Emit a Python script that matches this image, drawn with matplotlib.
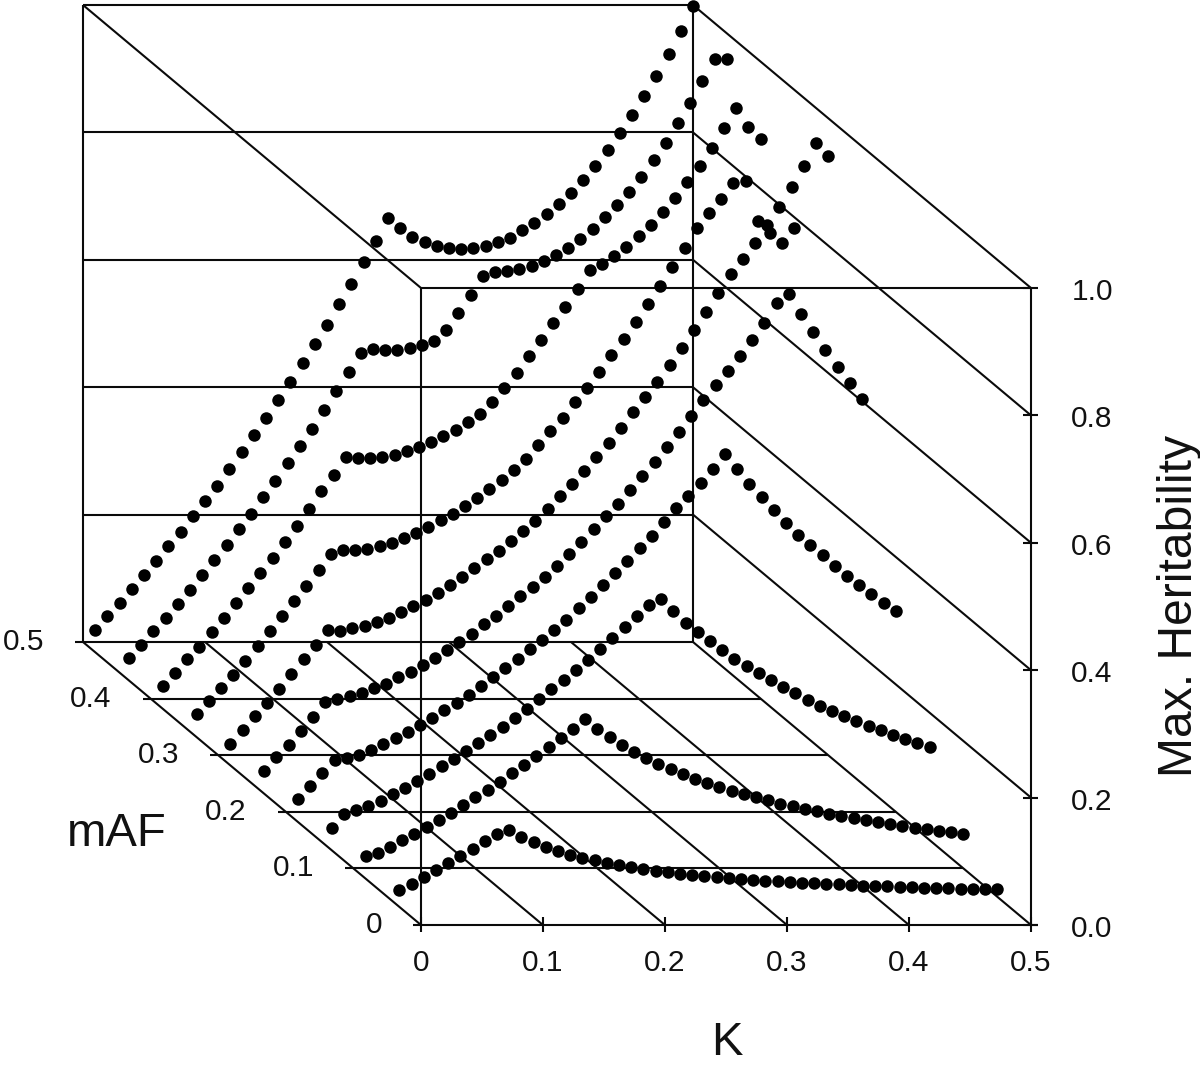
import matplotlib
matplotlib.use('Agg')
import numpy as np
import matplotlib.pyplot as plt

plt.rcParams['font.family'] = ['Liberation Sans', 'DejaVu Sans']

# K at every dot, same for all curves
k_values = [0.01, 0.02, 0.03, 0.04, 0.05, 0.06, 0.07, 0.08, 0.09, 0.10,
            0.11, 0.12, 0.13, 0.14, 0.15, 0.16, 0.17, 0.18, 0.19, 0.20,
            0.21, 0.22, 0.23, 0.24, 0.25, 0.26, 0.27, 0.28, 0.29, 0.30,
            0.31, 0.32, 0.33, 0.34, 0.35, 0.36, 0.37, 0.38, 0.39, 0.40,
            0.41, 0.42, 0.43, 0.44, 0.45, 0.46, 0.47, 0.48, 0.49, 0.50]

# max heritability, one list per mAF
h_050 = [.019, .041, .061, .083, .105, .127, .151, .173, .198, .221,
         .245, .272, .298, .325, .352, .380, .408, .438, .468, .498,
         .531, .562, .597, .630, .666, .650, .636, .628, .622, .619,
         .617, .619, .622, .628, .634, .647, .658, .672, .688, .705,
         .725, .747, .772, .799, .827, .857, .889, .923, .959, .998]
h_045 = [.019, .040, .062, .082, .104, .126, .150, .173, .197, .222,
         .245, .272, .297, .325, .352, .379, .409, .438, .468, .498,
         .504, .503, .503, .506, .511, .517, .534, .561, .589, .619,
         .625, .627, .630, .635, .643, .652, .663, .677, .693, .712,
         .730, .751, .774, .801, .828, .859, .891, .925, .960, .960]
h_040 = [.020, .040, .062, .081, .105, .127, .150, .174, .197, .221,
         .246, .271, .298, .326, .351, .379, .378, .378, .379, .382,
         .389, .395, .403, .412, .422, .434, .447, .466, .488, .511,
         .538, .563, .590, .615, .643, .673, .682, .695, .709, .726,
         .743, .764, .786, .811, .836, .864, .896, .927, .897, .878]
h_035 = [.020, .041, .061, .081, .103, .127, .151, .174, .198, .221,
         .246, .271, .278, .278, .279, .284, .289, .297, .304, .314,
         .325, .334, .347, .359, .373, .388, .403, .421, .443, .465,
         .485, .510, .532, .557, .584, .609, .636, .664, .692, .722,
         .752, .783, .807, .829, .854, .857, .794, .775, .760, .783]
h_030 = [.018, .040, .062, .082, .104, .127, .151, .173, .197, .195,
         .200, .203, .209, .215, .225, .234, .244, .255, .267, .280,
         .294, .308, .321, .336, .352, .368, .386, .407, .426, .446,
         .468, .490, .514, .539, .562, .586, .613, .639, .668, .696,
         .726, .755, .779, .804, .832, .861, .892, .925, .961, .941]
h_025 = [.020, .042, .060, .082, .104, .128, .133, .137, .142, .150,
         .156, .167, .175, .186, .197, .210, .222, .235, .250, .263,
         .279, .294, .308, .324, .341, .360, .379, .400, .420, .439,
         .461, .483, .505, .528, .552, .577, .602, .626, .648, .671,
         .696, .723, .754, .768, .737, .709, .681, .654, .629, .604]
h_020 = [.020, .041, .061, .081, .084, .089, .097, .106, .116, .125,
         .136, .147, .160, .171, .183, .197, .212, .226, .240, .256,
         .270, .285, .301, .320, .337, .356, .375, .394, .414, .433,
         .455, .477, .496, .516, .538, .562, .538, .515, .494, .474,
         .453, .435, .419, .403, .386, .370, .356, .342, .328, .315]
h_015 = [.019, .041, .047, .054, .061, .072, .082, .093, .104, .116,
         .127, .140, .152, .165, .178, .192, .206, .222, .237, .251,
         .267, .283, .300, .317, .335, .352, .369, .378, .360, .341,
         .327, .313, .298, .284, .273, .262, .251, .240, .231, .220,
         .211, .203, .195, .187, .179, .173, .165, .159, .152, .146]
h_010 = [.019, .024, .034, .045, .054, .065, .076, .087, .100, .112,
         .123, .136, .150, .162, .176, .191, .205, .219, .235, .219,
         .206, .194, .183, .173, .164, .156, .148, .140, .134, .128,
         .122, .117, .112, .107, .101, .098, .093, .090, .085, .082,
         .079, .076, .073, .070, .067, .063, .062, .059, .057, .054]
h_005 = [.011, .020, .031, .042, .053, .064, .075, .087, .098, .105,
         .094, .086, .078, .072, .065, .061, .058, .053, .050, .047,
         .043, .040, .039, .036, .034, .032, .031, .029, .028, .026,
         .025, .025, .023, .022, .022, .020, .020, .018, .017, .017,
         .017, .015, .015, .014, .014, .014, .012, .012, .012, .012]

maf_values = [0.5, 0.45, 0.4, 0.35, 0.3, 0.25, 0.2, 0.15, 0.1, 0.05]
curves = [h_050, h_045, h_040, h_035, h_030, h_025, h_020, h_015, h_010, h_005]

k_ticks = [0, 0.1, 0.2, 0.3, 0.4, 0.5]
k_labels = ['0', '0.1', '0.2', '0.3', '0.4', '0.5']
maf_ticks = [0, 0.1, 0.2, 0.3, 0.4, 0.5]
maf_labels = ['0', '0.1', '0.2', '0.3', '0.4', '0.5']
h_ticks = [0.0, 0.2, 0.4, 0.6, 0.8, 1.0]
h_labels = ['0.0', '0.2', '0.4', '0.6', '0.8', '1.0']


# oblique projection of (K, mAF, heritability) onto the page
def proj(k, m, h):
	k = np.asarray(k, dtype=float)
	h = np.asarray(h, dtype=float)
	return 421 + 1220 * k - 676 * m, 925 - 637 * h - 566 * m


def seg(ax, p0, p1, dx0=0, dy0=0, dx1=0, dy1=0):
	x0, y0 = proj(*p0)
	x1, y1 = proj(*p1)
	ax.plot([x0 + dx0, x1 + dx1], [y0 + dy0, y1 + dy1], color='#0a0a0a', lw=1.5,
			solid_capstyle='butt', zorder=1)


fig = plt.figure(figsize=(12, 10.68), dpi=100)
ax = fig.add_axes([0, 0, 1, 1])
ax.set_xlim(0, 1200)
ax.set_ylim(1068, 0)
ax.axis('off')

# walls: heritability levels on back wall and right wall
for h in h_ticks:
	dx = -8 if h == 0.0 else 0
	seg(ax, (0, 0.5, h), (0.5, 0.5, h), dx0=dx)
	seg(ax, (0.5, 0.5, h), (0.5, 0, h))
	seg(ax, (0.5, 0, h), (0.5, 0, h), dx0=-8, dx1=7)
seg(ax, (0, 0.5, 0), (0, 0.5, 1))
seg(ax, (0.5, 0.5, 0), (0.5, 0.5, 1))
seg(ax, (0, 0, 1), (0.5, 0, 1))
seg(ax, (0, 0.5, 1), (0, 0, 1))
seg(ax, (0, 0, 0), (0, 0, 1))
seg(ax, (0.5, 0, 0), (0.5, 0, 1))

# floor
for k in k_ticks[:-1]:
	seg(ax, (k, 0.5, 0), (k, 0, 0))
for k in k_ticks:
	seg(ax, (k, 0, 0), (k, 0, 0), dy0=-8, dy1=7)
for m in maf_ticks[:-1]:
	seg(ax, (0, m, 0), (0.5, m, 0), dx0=-8, dx1=7 if m == 0 else 0)

# dots
for m, h in zip(maf_values, curves):
	x, y = proj(k_values, m, h)
	ax.plot(x, y, 'o', color='black', ms=9, mew=0, zorder=3)

# tick labels
for k, s in zip(k_ticks, k_labels):
	x, y = proj(k, 0, 0)
	ax.text(x, 963, s, ha='center', va='center', fontsize=21.5, color='#111111')
for m, s in zip(maf_ticks, maf_labels):
	x, y = proj(0, m, 0)
	ax.text(x - 39, y, s, ha='right', va='center', fontsize=21.5, color='#111111')
for h, s in zip(h_ticks, h_labels):
	x, y = proj(0.5, 0, h)
	ax.text(x + 61, y + 4, s, ha='center', va='center', fontsize=21.5, color='#111111')

ax.text(117, 834, 'mAF', ha='center', va='center', fontsize=34, color='#111111')
ax.text(727, 1043, 'K', ha='center', va='center', fontsize=34, color='#111111')
ax.text(1179, 606, 'Max. Heritability', ha='center', va='center', rotation=90,
		fontsize=34.6, color='#111111')

fig.savefig('out.png', dpi=100)
